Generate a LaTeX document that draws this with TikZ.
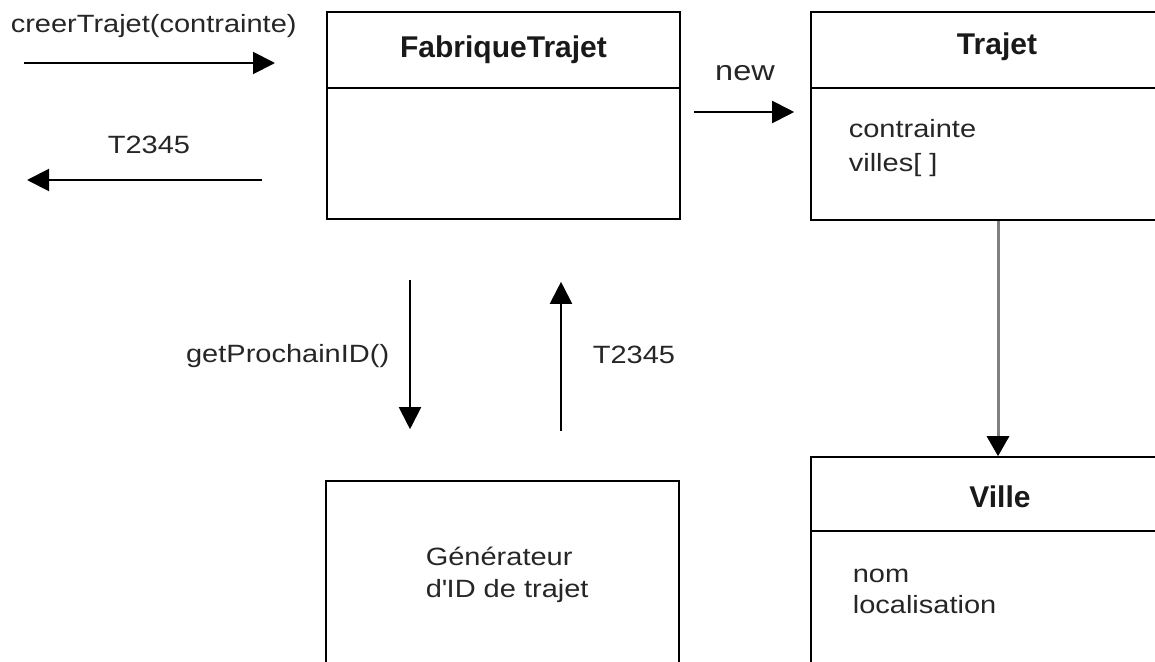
\documentclass[tikz,border=0pt]{standalone}
\usepackage{fontspec}
\setmainfont{Liberation Sans}[FakeStretch=1.16]
\newfontfamily\titlefont{Liberation Sans}
\usetikzlibrary{arrows.meta}

\begin{document}
\begin{tikzpicture}[x = 1pt, y = -1pt, line width = 1.6pt,
                        classe/.style = {rectangle, draw, inner sep = 0pt},
                        titre/.style = {anchor = base, inner sep = 0pt, text = black!90,
                                        font = \titlefont\bfseries\fontsize{30}{36}\selectfont},
                        texte/.style = {anchor = base west, inner sep = 0pt, text = black!85,
                                        font = \fontsize{25}{30}\selectfont},
                        fleche/.style = {line width = 2pt, -{Triangle[length = 22pt, width = 22pt]}}]
      \clip (0, 0) rectangle (1155, 661);
      \fill [white] (0, 0) rectangle (1155, 661);
      % classes
      \node [classe, minimum width = 353pt, minimum height = 207pt] (fab) at (503.5, 115.5){};
      \node [classe, minimum width = 374pt, minimum height = 208pt] (traj) at (998, 116){};
      \node [classe, minimum width = 374pt, minimum height = 243pt] (ville) at (998, 578.5){};
      \node [classe, minimum width = 353pt, minimum height = 219pt] (gen) at (502.5, 590.5){};
      \draw (fab.west |- 0, 88) -- (fab.east |- 0, 88);
      \draw (traj.west |- 0, 88) -- (traj.east |- 0, 88);
      \draw (ville.west |- 0, 531) -- (ville.east |- 0, 531);
      \node [titre] (fabT) at (503.5, 58){FabriqueTrajet};
      \node [titre] (trajT) at (997, 55){Trajet};
      \node [titre] (villeT) at (1000, 507){Ville};
      \node [texte] (trajA) at (848, 137){contrainte};
      \node [texte] (trajB) at (848, 171){villes[ ]};
      \node [texte] (villeA) at (852, 582){nom};
      \node [texte] (villeB) at (852, 613){localisation};
      \node [texte] (genA) at (425, 565){Générateur};
      \node [texte] (genB) at (425, 597){d\textquotesingle ID de trajet};
      % messages
      \coordinate (entreeA) at (24, 63);
      \coordinate (entreeB) at (275, 63);
      \coordinate (sortieA) at (262, 180);
      \coordinate (sortieB) at (27, 180);
      \draw [fleche] (entreeA) -- (entreeB);
      \draw [fleche] (sortieA) -- (sortieB);
      \node [texte] (creer) at (10, 33){creerTrajet(contrainte)};
      \node [texte, anchor = base] (retour) at (149, 153){T2345};
      \draw [fleche, shorten <= 13pt, shorten >= 16pt] (fab.east |- 0, 112) -- (traj.west |- 0, 112);
      \node [texte, anchor = base, font = \fontsize{28}{34}\selectfont] (nouveau) at (745, 80){new};
      \draw [fleche, shorten <= 60pt, shorten >= 51pt] (fab.south -| 410, 0) -- (gen.north -| 410, 0);
      \draw [fleche, shorten <= 49pt, shorten >= 62pt] (gen.north -| 561, 0) -- (fab.south -| 561, 0);
      \node [texte, anchor = base east] (prochain) at (390, 362){getProchainID()};
      \node [texte] (id) at (592, 363){T2345};
      \draw [fleche, line width = 3pt, draw = black!50, -{Triangle[length = 20pt, width = 22pt, color = black]}] (traj.south) -- (ville.north);
    \end{tikzpicture}
\end{document}
